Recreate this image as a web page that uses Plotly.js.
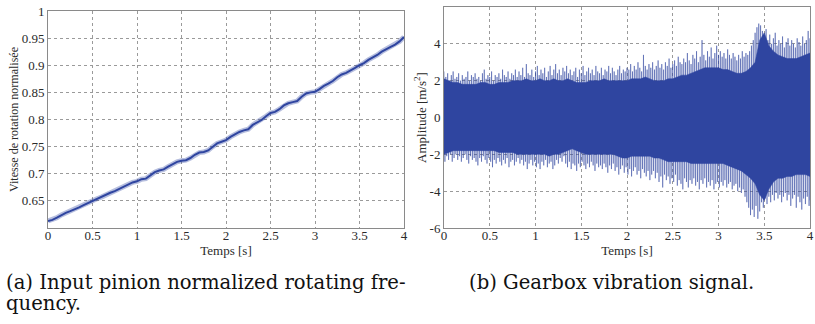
<!DOCTYPE html>
<html>
<head>
<meta charset="utf-8">
<script src="https://cdn.plot.ly/plotly-3.0.1.min.js"></script>
<style>html,body{margin:0;padding:0;background:#fff;}#chart{width:815px;height:324px;}</style>
</head>
<body>
<div id="chart"></div>
<script>
// ---- Left panel: normalised rotating speed, sampled every 0.05 s ----
const speedDt = 0.05;
const speedValues = [
0.613,0.615,0.619,0.624,0.628,0.631,0.634,0.638,0.642,0.646,
0.650,0.654,0.657,0.661,0.665,0.668,0.672,0.676,0.680,0.684,
0.686,0.690,0.691,0.697,0.703,0.706,0.708,0.713,0.718,0.722,
0.724,0.725,0.729,0.735,0.739,0.740,0.743,0.750,0.756,0.759,
0.762,0.768,0.773,0.777,0.780,0.782,0.790,0.795,0.799,0.806,
0.812,0.814,0.819,0.826,0.830,0.832,0.834,0.842,0.848,0.850,
0.851,0.856,0.862,0.866,0.871,0.878,0.883,0.886,0.890,0.895,
0.900,0.904,0.910,0.914,0.919,0.925,0.930,0.934,0.938,0.944,
0.952];

// ---- Right panel: vibration envelope (dense core), every 0.05 s ----
const coreDt = 0.05;
const coreUpper = [
2.1,2.0,1.9,1.9,1.8,1.8,1.8,1.8,1.9,1.9,
1.8,1.8,1.9,1.9,1.9,2.0,2.0,2.0,2.1,2.0,
2.0,2.1,2.0,2.0,2.1,2.0,2.0,2.1,2.0,1.9,
1.9,1.9,2.0,2.0,2.0,2.1,2.0,2.0,2.0,2.0,
2.0,2.1,2.1,2.1,2.2,2.1,2.0,2.0,2.0,2.1,
2.1,2.2,2.3,2.3,2.4,2.5,2.6,2.7,2.7,2.7,
2.7,2.6,2.6,2.5,2.4,2.4,2.5,2.7,3.0,4.2,
4.6,3.9,3.6,3.4,3.3,3.2,3.2,3.2,3.3,3.4,
3.5];
const coreLower = [
-2.0,-1.9,-1.8,-1.8,-1.8,-1.8,-1.8,-1.8,-1.8,-1.8,
-1.8,-1.8,-1.9,-1.9,-1.9,-1.9,-2.0,-2.0,-2.0,-2.0,
-2.0,-2.0,-2.0,-2.1,-2.0,-2.0,-1.9,-1.8,-1.7,-1.8,
-1.9,-2.0,-2.0,-2.0,-2.0,-2.0,-2.0,-2.0,-2.1,-2.2,
-2.2,-2.1,-2.1,-2.1,-2.1,-2.1,-2.2,-2.2,-2.3,-2.4,
-2.4,-2.4,-2.4,-2.4,-2.5,-2.5,-2.5,-2.5,-2.5,-2.5,
-2.5,-2.5,-2.6,-2.7,-2.8,-2.9,-3.1,-3.3,-3.6,-4.2,
-4.5,-3.9,-3.5,-3.3,-3.3,-3.2,-3.2,-3.1,-3.1,-3.1,
-3.2];

// ---- Right panel: sparse spike extremes, every 0.02 s ----
const peakDt = 0.02;
const peakUpper = [
2.5,2.2,2.4,2.0,2.3,2.5,2.1,2.2,2.4,2.0,
2.3,2.1,2.2,2.5,2.0,2.3,2.2,2.4,2.1,2.2,
2.0,2.4,2.6,2.1,2.3,2.2,2.5,2.0,2.3,2.2,
2.4,2.1,2.6,2.3,2.2,2.5,2.1,2.4,2.3,2.6,
2.2,2.5,2.3,2.7,2.2,2.9,2.4,2.3,2.6,2.2,2.5,
2.8,2.3,2.6,2.4,2.7,2.2,2.5,2.8,2.3,2.6,
2.9,2.4,2.6,2.3,2.7,2.5,2.8,2.4,2.6,2.3,
2.5,2.7,2.2,2.6,2.4,2.8,2.3,2.5,2.7,2.4,
2.6,2.3,2.8,2.5,2.4,2.7,2.3,2.6,2.5,2.8,
2.4,2.7,2.5,2.3,2.6,2.8,2.4,2.6,2.5,2.7,
2.6,2.9,2.5,2.8,2.6,3.0,2.7,2.5,3.4,2.8,
2.6,2.9,2.7,3.0,2.6,2.8,3.1,2.7,2.9,2.6,
3.0,2.8,3.2,2.7,2.9,3.1,2.8,3.3,3.0,2.9,
3.2,3.0,3.5,3.1,2.9,3.4,3.2,3.6,3.0,3.3,
4.2,3.4,3.1,3.6,3.3,3.8,3.2,3.5,3.9,3.4,
3.6,3.3,3.5,3.2,3.7,3.4,3.2,3.5,3.3,3.1,
3.4,3.2,3.6,3.3,3.5,3.4,3.6,3.9,4.2,4.6,
4.9,5.1,5.0,4.7,4.4,4.8,4.2,4.5,4.0,4.3,
4.6,3.9,4.2,4.0,4.4,3.8,4.1,4.3,3.9,4.2,
4.0,3.8,4.3,4.1,3.9,4.4,4.0,4.2,4.7,4.3];
const peakLower = [
-2.4,-2.1,-2.3,-2.0,-2.4,-2.2,-2.0,-2.3,-2.1,-2.4,
-2.2,-2.0,-2.3,-2.5,-2.1,-2.3,-2.2,-2.4,-2.6,-2.2,
-2.4,-2.1,-2.3,-2.5,-2.2,-2.4,-2.7,-2.3,-2.5,-2.2,
-2.4,-2.6,-2.3,-2.5,-2.2,-2.7,-2.4,-2.3,-2.6,-2.4,
-2.2,-2.5,-2.3,-2.6,-2.4,-2.8,-2.5,-2.3,-2.6,-2.4,-2.7,
-2.5,-2.8,-2.4,-2.6,-2.3,-2.7,-2.5,-2.4,-2.8,-2.6,
-2.3,-2.5,-2.2,-2.4,-2.1,-2.5,-2.7,-2.4,-2.8,-2.5,
-2.6,-2.9,-2.5,-2.7,-2.4,-2.6,-2.8,-2.5,-2.7,-2.4,
-2.6,-2.9,-2.5,-2.7,-2.6,-2.8,-2.5,-2.7,-3.0,-2.6,
-2.8,-2.5,-2.9,-2.7,-3.1,-2.8,-2.6,-3.0,-2.7,-3.1,
-2.8,-3.2,-2.9,-2.7,-3.1,-2.9,-3.3,-2.8,-3.0,-3.2,
-2.9,-3.4,-3.1,-2.9,-3.3,-3.0,-3.5,-3.2,-3.8,-3.1,
-3.4,-3.2,-3.6,-3.3,-3.5,-3.1,-3.7,-3.4,-3.6,-3.9,
-3.3,-3.5,-3.8,-3.4,-3.6,-3.3,-3.7,-3.5,-3.9,-3.4,
-3.6,-3.3,-3.8,-3.5,-3.7,-3.4,-3.9,-3.6,-3.5,-3.8,
-3.5,-3.7,-3.4,-3.8,-3.6,-3.5,-3.9,-3.7,-3.6,-4.0,
-3.8,-4.1,-3.9,-4.3,-4.6,-4.9,-5.3,-5.0,-5.4,-4.8,
-5.5,-5.1,-4.6,-4.9,-4.4,-4.7,-4.3,-4.6,-4.2,-4.5,
-4.1,-4.4,-4.2,-4.6,-4.3,-4.1,-4.5,-4.2,-4.8,-4.4,
-4.2,-4.9,-4.3,-4.6,-5.0,-4.4,-4.7,-4.3,-4.8,-4.5];

const xTicks = [0,0.5,1,1.5,2,2.5,3,3.5,4];
const xTickText = ['0','0.5','1','1.5','2','2.5','3','3.5','4'];
const yTicksLeft = [0.65,0.7,0.75,0.8,0.85,0.9,0.95,1];
const yTickTextLeft = ['0.65','0.7','0.75','0.8','0.85','0.9','0.95','1'];
const yTicksRight = [-6,-4,-2,0,2,4,6];
const yTickTextRight = ['-6','-4','-2','0','2','4','6'];
const captionA1 = '(a) Input pinion normalized rotating fre-';
const captionA2 = 'quency.';
const captionB = '(b) Gearbox vibration signal.';

const BLUE = 'rgb(47,69,160)';
const W = 815, H = 324;
const SERIF = 'Liberation Serif, Times New Roman, serif';
const CAPFONT = 'DejaVu Serif, serif';

const speedT = speedValues.map((_, i) => +(i * speedDt).toFixed(4));
const coreT = coreUpper.map((_, i) => +(i * coreDt).toFixed(4));

const nPk = Math.min(peakUpper.length, peakLower.length);
const zigX = [], zigY = [];
for (let i = 0; i < nPk; i++) {
  const t = i * peakDt;
  zigX.push(t); zigY.push(peakUpper[i]);
  zigX.push(Math.min(4, t + peakDt / 2)); zigY.push(peakLower[i]);
}

const traces = [
  {x: speedT, y: speedValues, xaxis: 'x', yaxis: 'y', mode: 'lines',
   line: {color: 'rgba(47,69,160,0.35)', width: 5}, hoverinfo: 'skip'},
  {x: speedT, y: speedValues, xaxis: 'x', yaxis: 'y', mode: 'lines',
   line: {color: BLUE, width: 2}},
  {x: zigX, y: zigY, xaxis: 'x2', yaxis: 'y2', mode: 'lines',
   line: {color: 'rgba(47,69,160,0.5)', width: 1}, hoverinfo: 'skip'},
  {x: coreT, y: coreLower, xaxis: 'x2', yaxis: 'y2', mode: 'lines',
   line: {color: BLUE, width: 0.5}},
  {x: coreT, y: coreUpper, xaxis: 'x2', yaxis: 'y2', mode: 'lines', fill: 'tonexty',
   fillcolor: BLUE, line: {color: BLUE, width: 0.5}}
];

const tickFont = {family: SERIF, size: 13, color: '#2a2a2a'};
const axisCommon = {
  showline: true, mirror: true, linecolor: '#8a8a8a', linewidth: 1,
  showgrid: true, gridcolor: '#9a9a9a', griddash: 'dot', gridwidth: 1,
  zeroline: false, ticks: '', tickfont: tickFont
};

const layout = {
  width: W, height: H, margin: {l: 0, r: 0, t: 0, b: 0},
  paper_bgcolor: '#fff', plot_bgcolor: '#fff', showlegend: false,
  xaxis: Object.assign({}, axisCommon, {domain: [48/W, 404/W], range: [0, 4], anchor: 'y',
    tickvals: xTicks, ticktext: xTickText, ticklabelstandoff: -5,
    title: {text: 'Temps [s]', font: {family: SERIF, size: 13, color: '#2a2a2a'}, standoff: 0}}),
  yaxis: Object.assign({}, axisCommon, {domain: [1 - 228/H, 1 - 11/H], range: [0.6, 1], anchor: 'x',
    tickvals: yTicksLeft, ticktext: yTickTextLeft,
    title: {text: 'Vitesse de rotation normalisée', font: {family: SERIF, size: 12, color: '#2a2a2a'}, standoff: 0}}),
  xaxis2: Object.assign({}, axisCommon, {domain: [444/W, 810/W], range: [0, 4], anchor: 'y2',
    tickvals: xTicks, ticktext: xTickText, ticklabelstandoff: -5,
    title: {text: 'Temps [s]', font: {family: SERIF, size: 13, color: '#2a2a2a'}, standoff: 0}}),
  yaxis2: Object.assign({}, axisCommon, {domain: [1 - 228/H, 1 - 7/H], range: [-6, 6], anchor: 'x2',
    tickvals: yTicksRight, ticktext: yTickTextRight,
    title: {text: 'Amplitude [m/s<sup>2</sup>]', font: {family: SERIF, size: 13, color: '#2a2a2a'}, standoff: 0}}),
  annotations: [
    {text: captionA1, xref: 'paper', yref: 'paper', x: 4/W, y: 1 - 282/H, xanchor: 'left', yanchor: 'middle',
     showarrow: false, font: {family: CAPFONT, size: 19.6, color: '#111'}},
    {text: captionA2, xref: 'paper', yref: 'paper', x: 4/W, y: 1 - 303/H, xanchor: 'left', yanchor: 'middle',
     showarrow: false, font: {family: CAPFONT, size: 19.6, color: '#111'}},
    {text: captionB, xref: 'paper', yref: 'paper', x: 467/W, y: 1 - 282/H, xanchor: 'left', yanchor: 'middle',
     showarrow: false, font: {family: CAPFONT, size: 19.6, color: '#111'}}
  ]
};

Plotly.newPlot('chart', traces, layout, {displayModeBar: false, staticPlot: true});
</script>
</body>
</html>
